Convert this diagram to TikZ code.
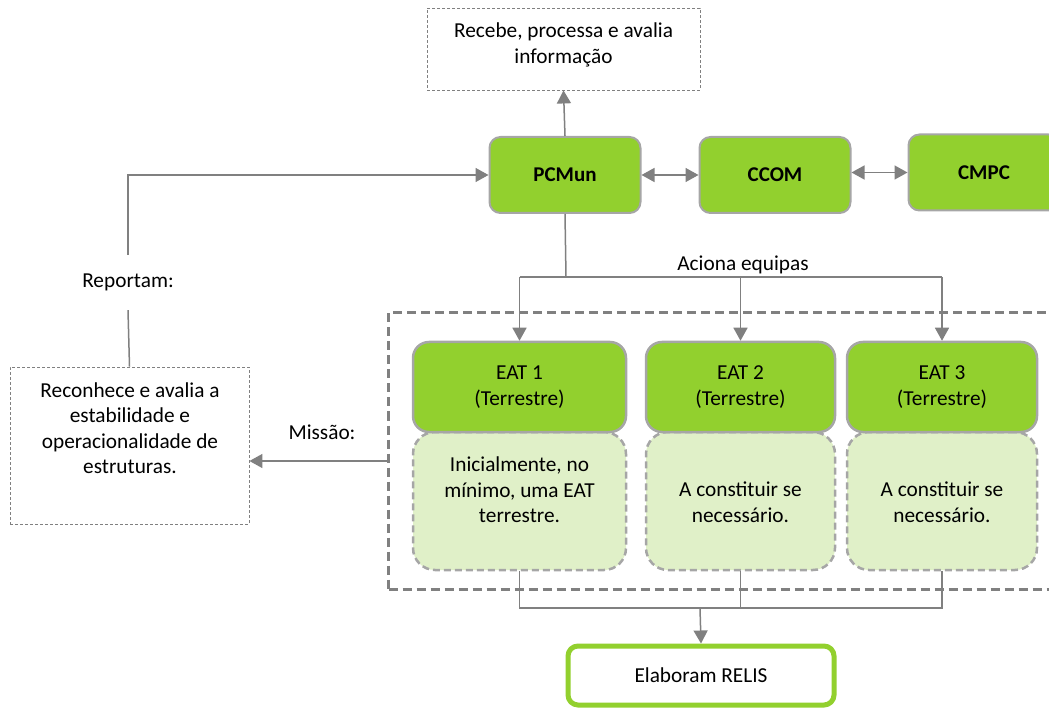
\documentclass[tikz,border=0pt]{standalone}
\usepackage{fontspec}
\setmainfont{Carlito}
\usetikzlibrary{arrows.meta}
\definecolor{grn}{RGB}{146,208,46}
\definecolor{lgrn}{RGB}{224,240,200}
\definecolor{lgray}{RGB}{166,166,166}
\definecolor{dgray}{RGB}{128,128,128}
\tikzset{
  txt/.style={font=\fontsize{21.3}{25.5}\selectfont, align=center, inner sep=0pt},
  greenbox/.style={draw=lgray, line width=2pt, fill=grn, rounded corners=11pt, font=\fontsize{21}{25.5}\selectfont\bfseries, align=center},
  eatbox/.style={draw=lgray, line width=2.5pt, fill=grn, rounded corners=16pt, font=\fontsize{21.3}{25.5}\selectfont, align=center},
  lowbox/.style={draw=lgray, line width=2.5pt, dash pattern=on 7pt off 4pt, fill=lgrn, rounded corners=22pt},
  notebox/.style={draw=dgray, line width=0.9pt, dash pattern=on 3pt off 2pt},
  conn/.style={draw=dgray, line width=1.5pt},
  arr/.style={conn, -{Triangle[width=14pt,length=13pt]}},
  darr/.style={conn, {Triangle[width=14pt,length=13pt]}-{Triangle[width=14pt,length=13pt]}},
}
\begin{document}
\begin{tikzpicture}[x=1pt,y=-1pt]
\useasboundingbox (0,0) rectangle (1049,708);
\clip (0,0) rectangle (1049,708);

% top note
\node[notebox, minimum width=273pt, minimum height=82pt] (info) at (563.5,49) {};
\node[txt] (infot) at (563.5,45) {Recebe, processa e avalia\\informação};

% green command boxes
\node[greenbox, minimum width=151pt, minimum height=76pt] (pcmun) at (565,175) {PCMun};
\node[greenbox, minimum width=151pt, minimum height=76pt] (ccom) at (775,175) {CCOM};
\node[greenbox, minimum width=151pt, minimum height=76pt] (cmpc) at (984,172.5) {CMPC};

\draw[arr] (pcmun.north) -- (info.south);
\draw[darr] (pcmun.east) -- (ccom.west);
\draw[darr] (ccom.east |- cmpc.west) -- (cmpc.west);

% group dashed box
\node[draw=dgray, line width=3pt, dash pattern=on 9pt off 5pt, minimum width=680pt, minimum height=277pt, anchor=north west] (grp) at (387,311) {};

% EAT boxes
\node[lowbox, minimum width=213pt, minimum height=138pt] (low1) at (519.5,501) {};
\node[lowbox, minimum width=189pt, minimum height=138pt] (low2) at (740.5,501) {};
\node[lowbox, minimum width=190pt, minimum height=138pt] (low3) at (942,501) {};
\node[eatbox, minimum width=213pt, minimum height=90pt] (eat1) at (519.5,387) {EAT 1\\(Terrestre)};
\node[eatbox, minimum width=189pt, minimum height=90pt] (eat2) at (740.5,387) {EAT 2\\(Terrestre)};
\node[eatbox, minimum width=190pt, minimum height=90pt] (eat3) at (942,387) {EAT 3\\(Terrestre)};
\node[txt] (low1t) at (519.5,490) {Inicialmente, no\\mínimo, uma EAT\\terrestre.};
\node[txt] (low2t) at (740.5,502) {A constituir se\\necessário.};
\node[txt] (low3t) at (942,502) {A constituir se\\necessário.};

% Aciona equipas bus
\coordinate (bus) at (566,277);
\draw[conn] (pcmun.south) -- (bus);
\draw[conn] (eat1.north |- bus) -- (eat3.north |- bus);
\draw[arr] (eat1.north |- bus) -- (eat1.north);
\draw[arr] (eat2.north |- bus) -- (eat2.north);
\draw[arr] (eat3.north |- bus) -- (eat3.north);
\node[txt] (aciona) at (743,265) {Aciona equipas};

% RELIS
\node[draw=grn, line width=5pt, fill=white, rounded corners=10pt, minimum width=266pt, minimum height=59pt, font=\fontsize{21.3}{25.5}\selectfont] (relis) at (701,675.5) {Elaboram RELIS};
\coordinate (bot) at (700,608);
\draw[conn] (low1.south) -- (low1.south |- bot) -- (low3.south |- bot) -- (low3.south);
\draw[conn] (low2.south) -- (low2.south |- bot);
\draw[arr] (bot) -- (relis.north);

% left note
\node[notebox, minimum width=239pt, minimum height=157pt] (recon) at (129.5,445.5) {};
\node[txt] (recont) at (130,428) {Reconhece e avalia a\\estabilidade e\\operacionalidade de\\estruturas.};
\node[txt, minimum height=55pt] (rep) at (128,282.5) {Reportam:};
\draw[conn] (recon.north) -- (rep.south);
\draw[arr] (rep.north) |- (pcmun.west);

\node[txt] (missao) at (322,432) {Missão:};
\coordinate (mis) at (387,461);
\draw[arr] (mis) -- (recon.east |- mis);
\end{tikzpicture}
\end{document}
